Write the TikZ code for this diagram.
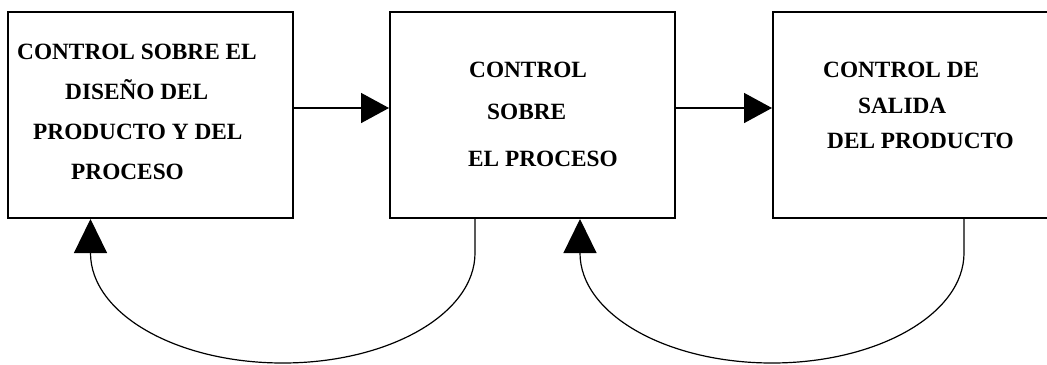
\documentclass[tikz,border=0pt]{standalone}
\usepackage{fontspec}
\setmainfont{Liberation Serif}
\usetikzlibrary{arrows.meta}
\begin{document}
\begin{tikzpicture}[x=1bp,y=-1bp,
  box/.style={draw, line width=2bp, inner sep=0pt, minimum height=206bp},
  lbl/.style={anchor=base west, inner sep=0pt, font=\fontsize{23.3bp}{28bp}\selectfont\bfseries},
  flow/.style={line width=1.6bp, -{Triangle[length=28bp,width=30bp]}},
  loop/.style={line width=1.2bp, -{Triangle[length=34bp,width=33bp]}}]
\useasboundingbox (0,0) rectangle (1047,364);
\clip (0,0) rectangle (1047,364);
\fill[white] (0,0) rectangle (1047,364);
% boxes
\node[box, minimum width=285bp] (b1) at (150.5,115) {};
\node[box, minimum width=285bp] (b2) at (532.5,115) {};
\node[box, minimum width=287bp] (b3) at (916.5,115) {};
% texts
\node[lbl] (t11) at (17,59.5) {CONTROL SOBRE EL};
\node[lbl] (t12) at (65,99.5) {DISEÑO DEL};
\node[lbl] (t13) at (33,139.5) {PRODUCTO Y DEL};
\node[lbl] (t14) at (71,179.5) {PROCESO};
\node[lbl] (t21) at (469,77.5) {CONTROL};
\node[lbl] (t22) at (487,119) {SOBRE};
\node[lbl] (t23) at (468,166) {EL PROCESO};
\node[lbl] (t31) at (823,77.5) {CONTROL DE};
\node[lbl] (t32) at (858,113) {SALIDA};
\node[lbl] (t33) at (827,148) {DEL PRODUCTO};
% helper coordinates
\coordinate (row) at (0,108);
\coordinate (s2) at (475,0);
\coordinate (e1) at (90.5,0);
\coordinate (s3) at (964,0);
\coordinate (e2) at (580,0);
% forward arrows
\draw[flow] (b1.east |- row) -- (b2.west |- row);
\draw[flow] (b2.east |- row) -- (b3.west |- row);
% feedback loops
\draw[loop] (b2.south -| s2) -- ++(0,34)
  arc[start angle=0, end angle=-180, x radius=192.25bp, y radius=110bp]
  -- (b1.south -| e1);
\draw[loop] (b3.south -| s3) -- ++(0,34)
  arc[start angle=0, end angle=-180, x radius=192bp, y radius=110bp]
  -- (b2.south -| e2);
\end{tikzpicture}
\end{document}
